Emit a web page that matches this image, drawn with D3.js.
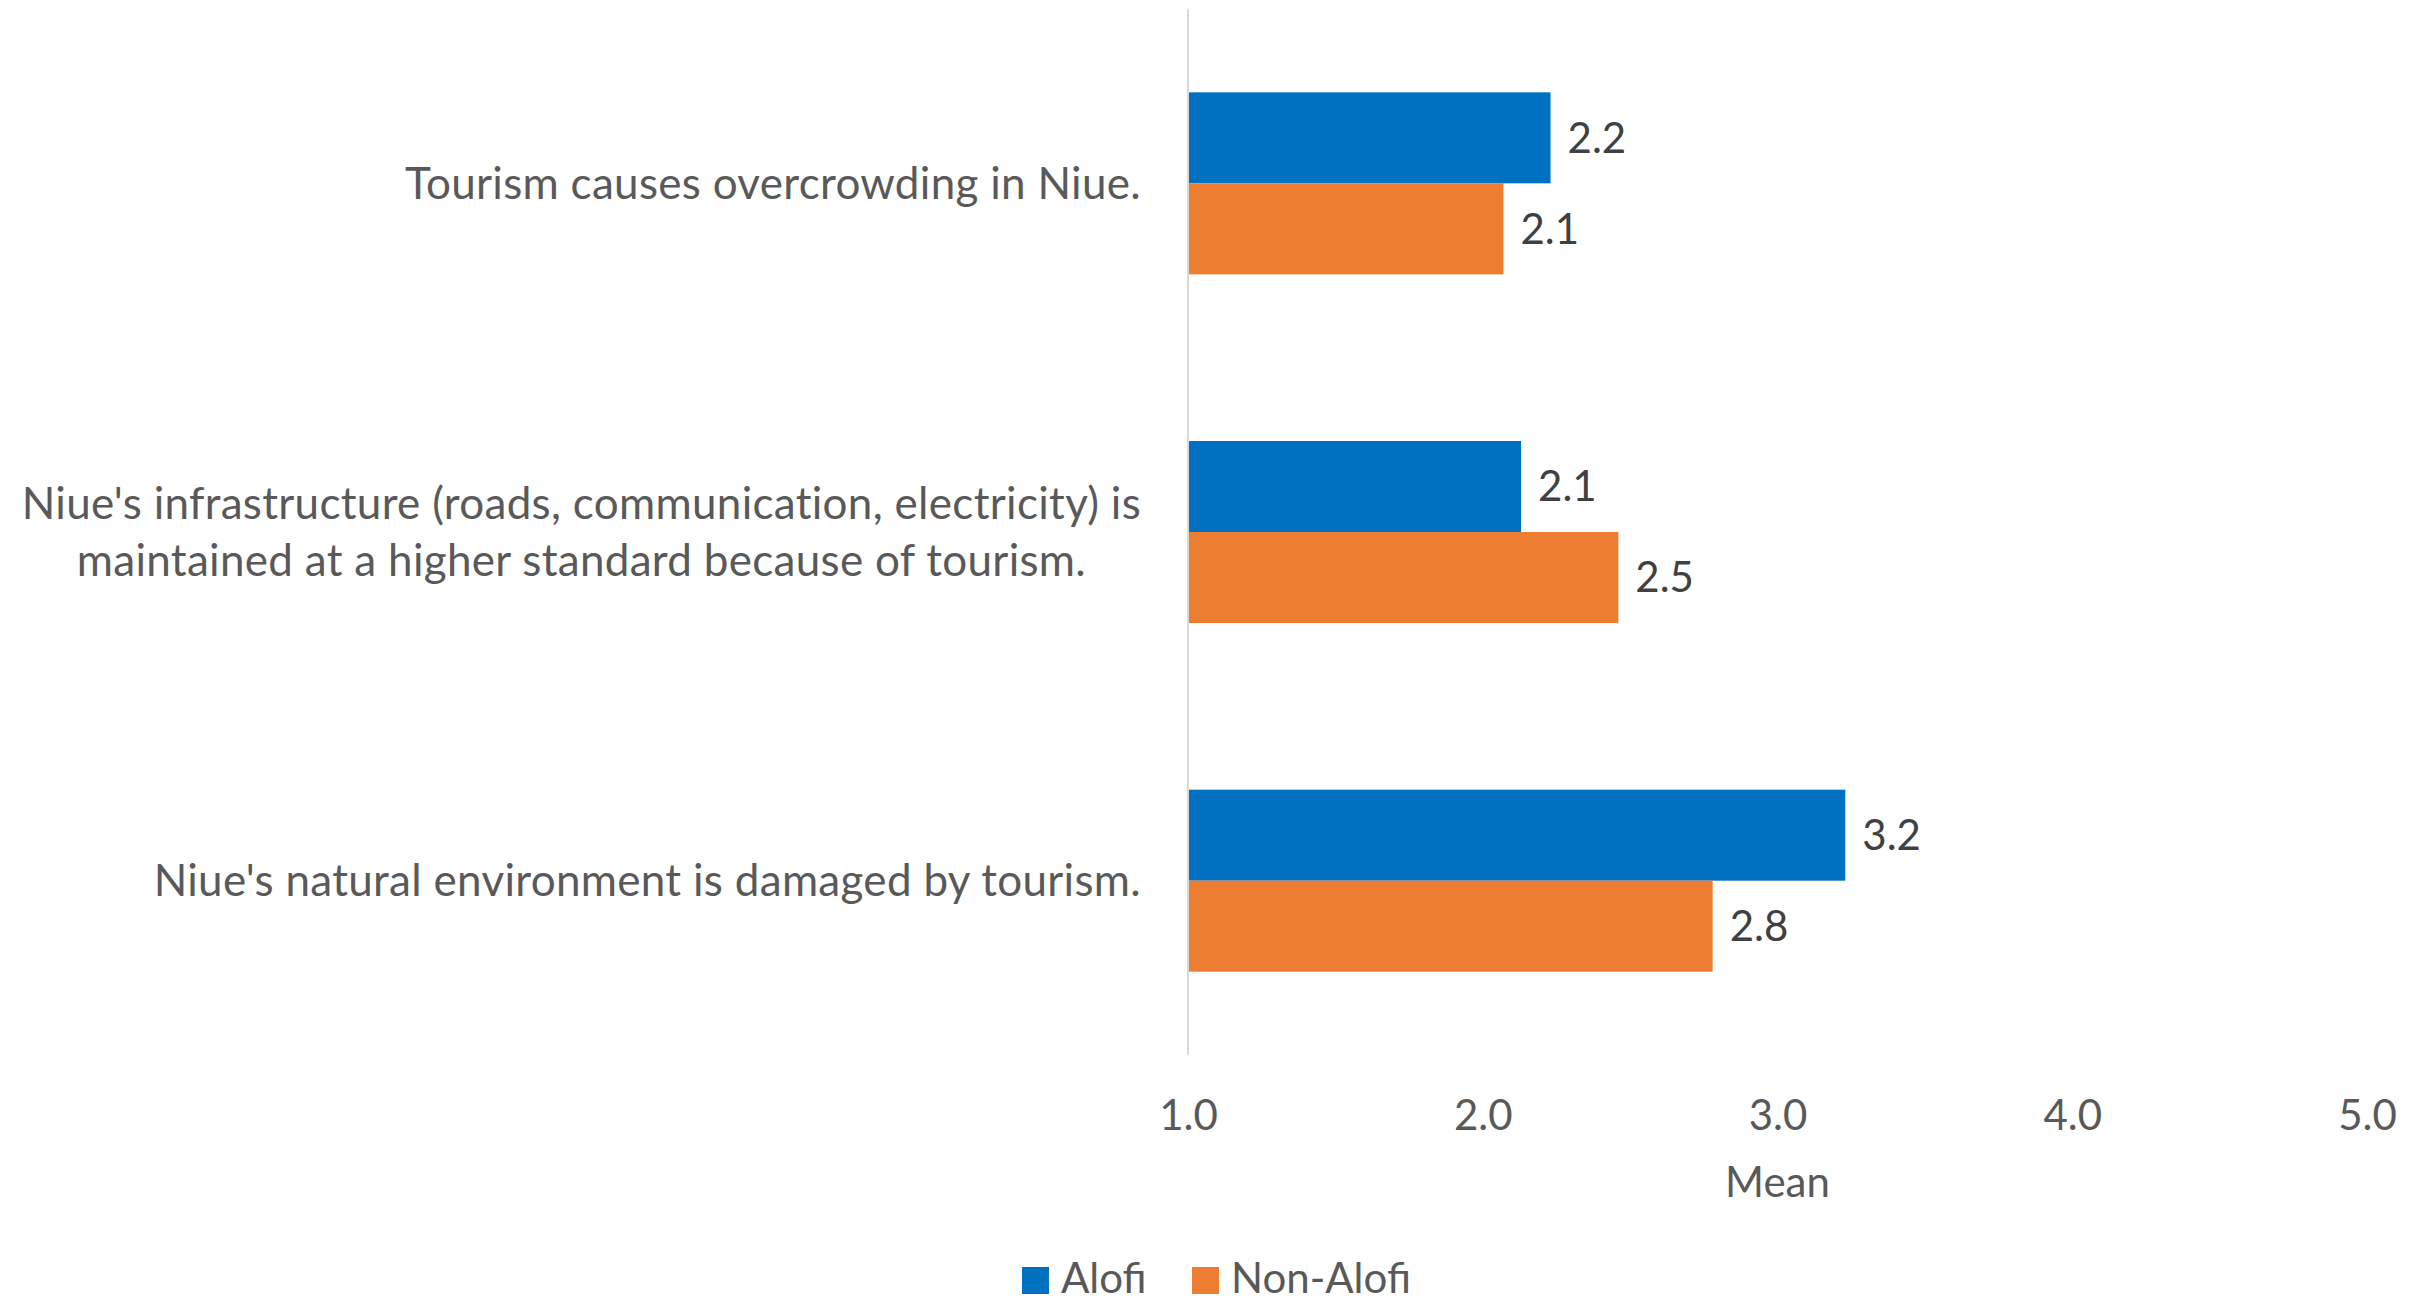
<!DOCTYPE html>
<html>
<head>
<meta charset="utf-8">
<script src="https://cdn.jsdelivr.net/npm/d3@7"></script>
<style>
  html, body { margin: 0; padding: 0; background: #ffffff; }
  svg { display: block; }
  text { font-family: Lato, "Open Sans", sans-serif; }
</style>
</head>
<body>
<svg id="chart" width="2428" height="1302"></svg>
<script>
const categories = [
  "Tourism causes overcrowding in Niue.",
  "Niue's infrastructure (roads, communication, electricity) is|maintained at a higher standard because of tourism.",
  "Niue's natural environment is damaged by tourism."
];
const seriesNames = ["Alofi", "Non-Alofi"];
const alofiValues = [2.23, 2.13, 3.23];
const nonAlofiValues = [2.07, 2.46, 2.78];
const xTicks = [1, 2, 3, 4, 5];
const axisTitle = "Mean";
const seriesColors = ["#0070C0", "#ED7D31"];

const svg = d3.select("#chart");
const FONT = 42;
const CAT_FONT = 44;

const x = d3.scaleLinear().domain([1, 5]).range([1188, 2367]);
const y0 = d3.scaleBand().domain(categories).range([9, 1055]).paddingInner(0.478).paddingOuter(0.239);
const y1 = d3.scaleBand().domain(seriesNames).range([0, y0.bandwidth()]);
const color = d3.scaleOrdinal().domain(seriesNames).range(seriesColors);

const rows = categories.map((c, i) => ({ cat: c, vals: [
  { s: seriesNames[0], v: alofiValues[i] },
  { s: seriesNames[1], v: nonAlofiValues[i] }
]}));

// bars
const g = svg.append("g");
const groups = g.selectAll("g.cat").data(rows).join("g")
  .attr("transform", d => `translate(0,${y0(d.cat)})`);
groups.selectAll("rect").data(d => d.vals).join("rect")
  .attr("x", x(1))
  .attr("y", d => y1(d.s))
  .attr("width", d => x(d.v) - x(1))
  .attr("height", y1.bandwidth())
  .attr("fill", d => color(d.s));
groups.selectAll("text.lbl").data(d => d.vals).join("text")
  .attr("class", "lbl")
  .attr("x", d => x(d.v) + 17)
  .attr("y", d => y1(d.s) + y1.bandwidth() / 2)
  .attr("dy", "0.35em")
  .attr("fill", "#404040")
  .style("font-size", FONT + "px")
  .text(d => d3.format(".1f")(d.v));

// vertical axis line
svg.append("line")
  .attr("x1", x(1)).attr("x2", x(1))
  .attr("y1", 9).attr("y2", 1055)
  .attr("stroke", "#D9D9D9").attr("stroke-width", 2);

// category labels (centered block, right edge at 1141)
const labelRight = 1141;
const lineH = 57;
categories.forEach(c => {
  const lines = c.split("|");
  const t = svg.append("text")
    .attr("fill", "#595959")
    .style("font-size", CAT_FONT + "px")
    .style("letter-spacing", "0.3px")
    .attr("text-anchor", "middle");
  const cy = y0(c) + y0.bandwidth() / 2;
  const tspans = lines.map((ln, i) => t.append("tspan")
    .attr("y", cy + (i - (lines.length - 1) / 2) * lineH)
    .attr("dy", "0.35em")
    .text(ln));
  let maxW = 0;
  tspans.forEach(ts => { maxW = Math.max(maxW, ts.node().getComputedTextLength()); });
  tspans.forEach(ts => ts.attr("x", labelRight - maxW / 2));
});

// x axis ticks (no line)
const xAxis = d3.axisBottom(x).tickValues(xTicks).tickFormat(d3.format(".1f")).tickSize(0).tickPadding(0);
const ax = svg.append("g").attr("transform", "translate(0,1100)").call(xAxis);
ax.select(".domain").remove();
ax.selectAll("text")
  .attr("fill", "#595959")
  .attr("dy", "0.71em")
  .style("font-size", FONT + "px")
  .style("font-family", "Lato, 'Open Sans', sans-serif");

// axis title
svg.append("text")
  .attr("x", (x(1) + x(5)) / 2)
  .attr("y", 1197)
  .attr("text-anchor", "middle")
  .attr("fill", "#595959")
  .style("font-size", FONT + "px")
  .text(axisTitle);

// legend
const legendItems = [
  { s: seriesNames[0], x: 1022 },
  { s: seriesNames[1], x: 1192 }
];
const lg = svg.append("g");
legendItems.forEach(it => {
  lg.append("rect").attr("x", it.x).attr("y", 1267).attr("width", 27).attr("height", 27).attr("fill", color(it.s));
  lg.append("text").attr("x", it.x + 39).attr("y", 1293)
    .attr("fill", "#595959").style("font-size", FONT + "px").text(it.s);
});
</script>
</body>
</html>
